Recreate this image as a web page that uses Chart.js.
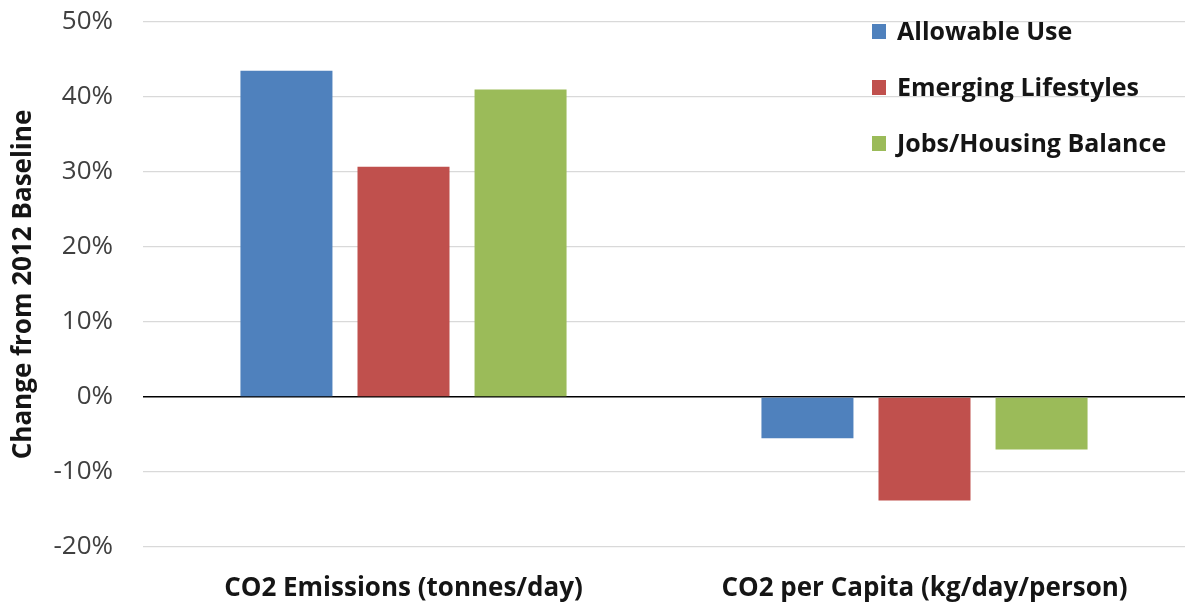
<!DOCTYPE html>
<html>
<head>
<meta charset="utf-8">
<script src="https://cdn.jsdelivr.net/npm/chart.js@4"></script>
<style>
    html, body { margin: 0; padding: 0; background: #fff; }
    #wrap { position: relative; width: 1195px; height: 605px; }
    #legend { position: absolute; left: 872px; top: 14px; font-family: 'Open Sans', sans-serif; font-weight: bold; font-size: 25px; color: #151515; }
    #legend div { height: 56px; line-height: 32px; white-space: nowrap; }
    #legend span { display: inline-block; width: 14px; height: 15px; margin-right: 11px; vertical-align: 1px; }
</style>
</head>
<body>
<div id="wrap">
    <canvas id="chart" width="1195" height="605"></canvas>
    <div id="legend"></div>
</div>
<script>
// Datos del gráfico
const categories = ['CO2 Emissions (tonnes/day)', 'CO2 per Capita (kg/day/person)'];
const seriesNames = ['Allowable Use', 'Emerging Lifestyles', 'Jobs/Housing Balance'];
const allowableUse = [43.5, -5.5];
const emergingLifestyles = [30.7, -13.8];
const jobsHousing = [41.0, -7.0];
const yTicks = [-20, -10, 0, 10, 20, 30, 40, 50];

const colors = ['#4F81BD', '#C0504D', '#9BBB59'];
const seriesValues = [allowableUse, emergingLifestyles, jobsHousing];

// Leyenda en HTML, arriba a la derecha dentro del área
const legendEl = document.getElementById('legend');
seriesNames.forEach(function(name, i) {
    const row = document.createElement('div');
    const box = document.createElement('span');
    box.style.background = colors[i];
    row.appendChild(box);
    row.appendChild(document.createTextNode(name));
    legendEl.appendChild(row);
});

const ctx = document.getElementById('chart').getContext('2d');

new Chart(ctx, {
    type: 'bar',
    data: {
        labels: categories,
        datasets: seriesNames.map(function(name, i) {
            return {
                label: name,
                data: seriesValues[i],
                backgroundColor: colors[i],
                borderWidth: 0,
                categoryPercentage: 0.674,
                barPercentage: 0.786
            };
        })
    },
    options: {
        responsive: false,
        animation: false,
        layout: {
            padding: { top: 0, right: 10, bottom: 2, left: 0 }
        },
        plugins: {
            legend: { display: false },
            tooltip: { enabled: false }
        },
        scales: {
            y: {
                min: yTicks[0],
                max: yTicks[yTicks.length - 1],
                afterBuildTicks: function(scale) {
                    scale.ticks = yTicks.map(function(v) { return { value: v }; });
                },
                afterFit: function(scale) {
                    scale.width = 143; // el área del gráfico empieza en x=143
                    // margen arriba: la línea del 50% queda en y=22
                    scale.paddingTop = 22;
                    scale.paddingBottom = 12;
                },
                border: { display: false },
                grid: {
                    drawTicks: false,
                    color: function(c) { return c.tick && c.tick.value === 0 ? '#000' : '#d9d9d9'; },
                    lineWidth: function(c) { return c.tick && c.tick.value === 0 ? 1.5 : 1.2; }
                },
                ticks: {
                    padding: 30,
                    color: '#404040',
                    font: { family: "'Open Sans', sans-serif", size: 26 },
                    callback: function(v) { return v + '%'; }
                },
                title: {
                    display: true,
                    text: 'Change from 2012 Baseline',
                    color: '#151515',
                    padding: { top: 8, bottom: 0 },
                    font: { family: "'Open Sans', sans-serif", size: 26, weight: 'bold' }
                }
            },
            x: {
                afterFit: function(scale) {
                    scale.height = 56;
                },
                border: { display: false },
                grid: { display: false, drawTicks: false },
                ticks: {
                    padding: 26,
                    color: '#151515',
                    font: { family: "'Open Sans', sans-serif", size: 26, weight: 'bold' }
                }
            }
        }
    }
});
</script>
</body>
</html>
